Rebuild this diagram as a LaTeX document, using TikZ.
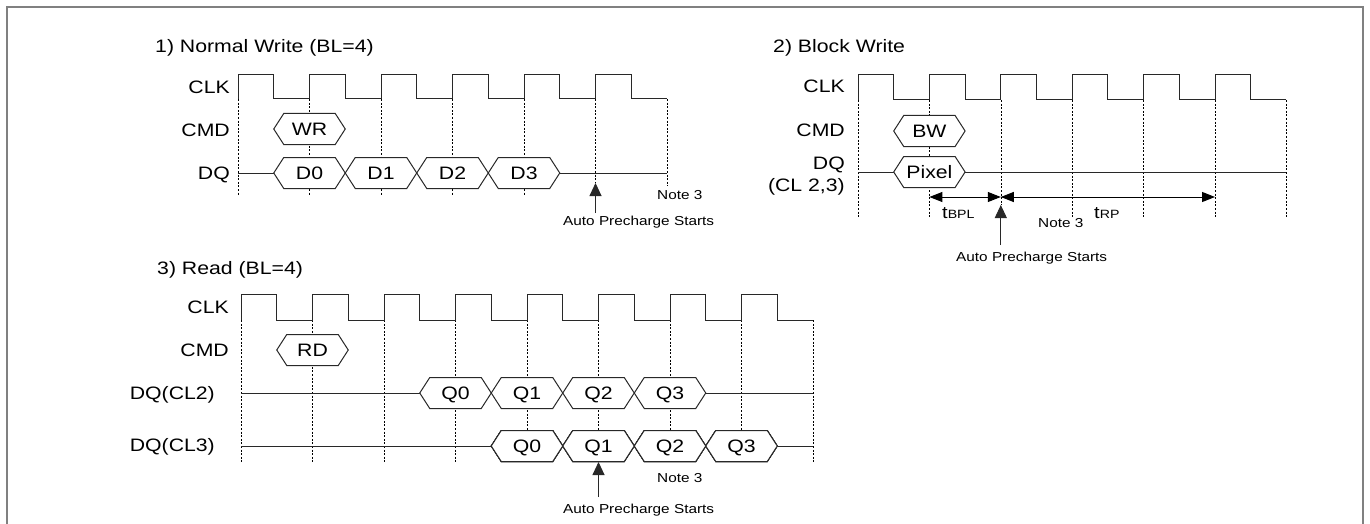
\documentclass[tikz,border=0pt]{standalone}
\usepackage{fontspec}
\setmainfont{Liberation Sans}[FakeStretch=1.18]
\usetikzlibrary{arrows.meta}
\definecolor{rahmen}{RGB}{128,128,128}
\definecolor{signal}{RGB}{40,40,40}

% clock: x0, period, high, low, pulses
\newcommand{\clkwave}[5]{%
  \draw[wave] (#1,#4) \foreach \k in {1,...,#5}{ -- ++(0,#3-#4) -- ++(#2/2,0) -- ++(0,#4-#3) -- ++(#2/2,0) };
}
% data cell: name, x left, x right, y, text
\newcommand{\hexcell}[5]{%
  \draw[hexline] (#2,#4) -- (#2+10,#4-15.5) -- (#3-10,#4-15.5) -- (#3,#4) -- (#3-10,#4+15.5) -- (#2+10,#4+15.5) -- cycle;
  \node[hextext] (#1) at ({(#2+#3)/2},#4+6.4) {#5};
}

\tikzset{
  wave/.style={signal, line width=1pt},
  hexline/.style={wave, fill=white},
  grid/.style={black, line width=0.6pt, dash pattern=on 2pt off 1.6pt},
  lbl/.style={font=\fontsize{18}{18}\selectfont, anchor=base east, inner sep=0pt},
  title/.style={font=\fontsize{18}{18}\selectfont, anchor=base west, inner sep=0pt},
  hextext/.style={font=\fontsize{18}{18}\selectfont, anchor=base, inner sep=0pt},
  small/.style={font=\fontsize{13}{13}\selectfont, anchor=base west, inner sep=0pt},
  tsym/.style={font=\fontsize{17}{17}\selectfont, anchor=base west, inner sep=0pt},
  note arrow/.style={signal, line width=0.9pt, -{Triangle[length=13pt,width=12pt]}},
  dim/.style={black, line width=1pt, {Triangle[length=13pt,width=10pt]}-{Triangle[length=13pt,width=10pt]}},
}

\begin{document}
\begin{tikzpicture}[x=1pt, y=-1pt]
    \useasboundingbox (0,0) rectangle (1370,524);
    \draw[rahmen, line width=1.6pt] (7,524) -- (7,7) -- (1363,7) -- (1363,524);

    % 1) Normal Write
    \node[title] (t1) at (155,52.5) {1) Normal Write (BL=4)};
    \node[lbl] (clk1) at (230,93.5) {CLK};
    \node[lbl] (cmd1) at (230,136.5) {CMD};
    \node[lbl] (dq1) at (230,179.5) {DQ};
    \foreach \k in {0,...,4}
        \draw[grid] (238+\k*71.5,99) -- (238+\k*71.5,195);
    \draw[grid] (595.5,99) -- (595.5,183);
    \draw[grid] (667,99) -- (667,186);
    \clkwave{238}{71.5}{75}{99}{6}
    \draw[wave] (238,173) -- (667,173);
    \hexcell{wr}{273.75}{345.25}{129}{WR}
    \foreach \t [count=\k from 0] in {D0,D1,D2,D3}
        \hexcell{d\k}{273.75+\k*71.5}{345.25+\k*71.5}{173}{\t}
    \coordinate (ap1) at (595.5,183);
    \coordinate (ap1s) at (595.5,213);
    \draw[note arrow] (ap1s) -- (ap1);
    \node[small] (n1) at (657,199.5) {Note 3};
    \node[small] (a1) at (563,225.5) {Auto Precharge Starts};

    % 2) Block Write
    \node[title] (t2) at (773,52.5) {2) Block Write};
    \node[lbl] (clk2) at (845,92.5) {CLK};
    \node[lbl] (cmd2) at (845,136.5) {CMD};
    \node[lbl] (dq2) at (845,169.5) {DQ};
    \node[lbl] (cl2) at (845,191.5) {(CL 2,3)};
    \foreach \k in {0,1,3,4,5,6}
        \draw[grid] (858+\k*71.4,100) -- (858+\k*71.4,217);
    \draw[grid] (1000.8,100) -- (1000.8,205);
    \clkwave{858}{71.4}{75}{100}{6}
    \draw[wave] (858,172) -- (1286.4,172);
    \hexcell{bw}{893.7}{965.1}{131}{BW}
    \hexcell{px}{893.7}{965.1}{172}{Pixel}
    \coordinate (bpl0) at (929.4,197);
    \coordinate (bpl1) at (1000.8,197);
    \coordinate (rp1) at (1215,197);
    \draw[dim] (bpl0) -- (bpl1);
    \draw[dim] (bpl1) -- (rp1);
    \node[tsym] (tbpl) at (942,218) {t{\fontsize{12}{12}\selectfont BPL}};
    \node[tsym] (trp) at (1094,218) {t{\fontsize{12}{12}\selectfont RP}};
    \coordinate (ap2) at (1000.8,205);
    \coordinate (ap2s) at (1000.8,245);
    \draw[note arrow] (ap2s) -- (ap2);
    \node[small] (n2) at (1038,227.5) {Note 3};
    \node[small] (a2) at (956,261.5) {Auto Precharge Starts};

    % 3) Read
    \node[title] (t3) at (157,274.5) {3) Read (BL=4)};
    \node[lbl] (clk3) at (229,313.5) {CLK};
    \node[lbl] (cmd3) at (229,356.5) {CMD};
    \node[lbl] (dqa) at (215,399.5) {DQ(CL2)};
    \node[lbl] (dqb) at (215,451.5) {DQ(CL3)};
    \foreach \k in {0,...,8}
        \draw[grid] (241+\k*71.5,320) -- (241+\k*71.5,462);
    \clkwave{241}{71.5}{294}{320}{8}
    \draw[wave] (241,393) -- (813,393);
    \draw[wave] (241,446) -- (813,446);
    \hexcell{rd}{276.75}{348.25}{350}{RD}
    \foreach \t [count=\k from 0] in {Q0,Q1,Q2,Q3}
        \hexcell{qa\k}{419.75+\k*71.5}{491.25+\k*71.5}{393}{\t}
    \foreach \t [count=\k from 0] in {Q0,Q1,Q2,Q3}
        \hexcell{qb\k}{491.25+\k*71.5}{562.75+\k*71.5}{446}{\t}
    \coordinate (ap3) at (598.5,462);
    \coordinate (ap3s) at (598.5,497);
    \draw[note arrow] (ap3s) -- (ap3);
    \node[small] (n3) at (657,482.5) {Note 3};
    \node[small] (a3) at (563,513.5) {Auto Precharge Starts};
\end{tikzpicture}
\end{document}
